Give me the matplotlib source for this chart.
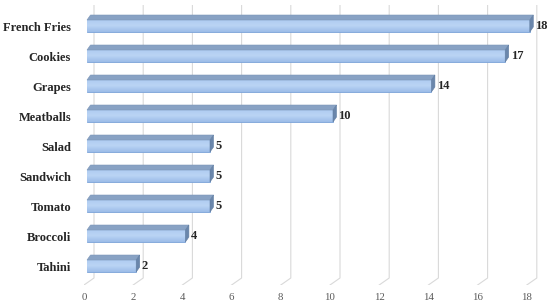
import matplotlib
matplotlib.use("Agg")
import matplotlib.pyplot as plt
import numpy as np
from matplotlib.patches import Polygon

# data, bottom row first
foods = ["Tahini", "Broccoli", "Tomato", "Sandwich", "Salad",
         "Meatballs", "Grapes", "Cookies", "French Fries"]
counts = [2, 4, 5, 5, 5, 10, 14, 17, 18]
ticks = [0, 2, 4, 6, 8, 10, 12, 14, 16, 18]

W, H = 550, 304
fig = plt.figure(figsize=(W / 100, H / 100), dpi=100)
ax = fig.add_axes([84 / W, 19 / H, 465 / W, 280 / H])

upx = 1 / 24.6   # value units per pixel
rpx = 1 / 30.0   # row units per pixel
y0, y1 = -0.633, 8.7
ax.set_xlim(0, 465 * upx)
ax.set_ylim(y0, y1)

# floor gridlines (3d look)
gx, gy = 10 * upx, 7 * rpx
for t in ticks:
    ax.plot([t, t + gx, t + gx], [y0, y0 + gy, y1], color="#d9d9d9",
            lw=0.8, zorder=1, solid_joinstyle="miter")

# bars
ox = 3 * upx        # front face offset from the tick
dx, dy = 3.5 * upx, 5 * rpx
h = 12 * rpx
idx = np.arange(len(foods))
bars = ax.barh(idx, counts, height=h, left=ox, color="#aac8ef",
               edgecolor="#7aa2d8", lw=0.6, zorder=3)

grad = np.linspace(0, 1, 50).reshape(-1, 1)
cmap = matplotlib.colors.LinearSegmentedColormap.from_list(
    "bar", ["#9cbce8", "#bad4f4", "#aecbf1"])
for b, i, v in zip(bars, idx, counts):
    im = ax.imshow(grad, extent=[ox, ox + v, i - h / 2, i + h / 2],
                   aspect="auto", cmap=cmap, origin="lower", zorder=3.5)
    im.set_clip_path(b)
    top = Polygon([(ox, i + h / 2), (ox + v, i + h / 2),
                   (ox + v + dx, i + h / 2 + dy), (ox + dx, i + h / 2 + dy)],
                  closed=True, facecolor="#88a2c4", edgecolor="#7d97b9",
                  lw=0.4, zorder=4)
    side = Polygon([(ox + v, i - h / 2), (ox + v + dx, i - h / 2 + dy),
                    (ox + v + dx, i + h / 2 + dy), (ox + v, i + h / 2)],
                   closed=True, facecolor="#6a86ab", edgecolor="#617ea3",
                   lw=0.4, zorder=4)
    ax.add_patch(top)
    ax.add_patch(side)
    ax.text(ox + v + dx + 2 * upx, i, str(v), ha="left", va="center",
            fontsize=9, fontweight="bold", family="Liberation Serif",
            color="#262626", zorder=5)

ax.set_yticks(idx, foods)
ax.set_xticks(ticks, [str(t) for t in ticks])
ax.tick_params(axis="y", length=0, pad=9.4, labelsize=9)
ax.tick_params(axis="x", length=0, pad=5.5, labelsize=7.8, labelcolor="#595959")
for lab in ax.get_yticklabels():
    lab.set_fontfamily("Liberation Serif")
    lab.set_fontweight("bold")
    lab.set_color("#262626")
for lab in ax.get_xticklabels():
    lab.set_fontfamily("Liberation Serif")
for s in ax.spines.values():
    s.set_visible(False)

fig.savefig("out.png", dpi=100)
